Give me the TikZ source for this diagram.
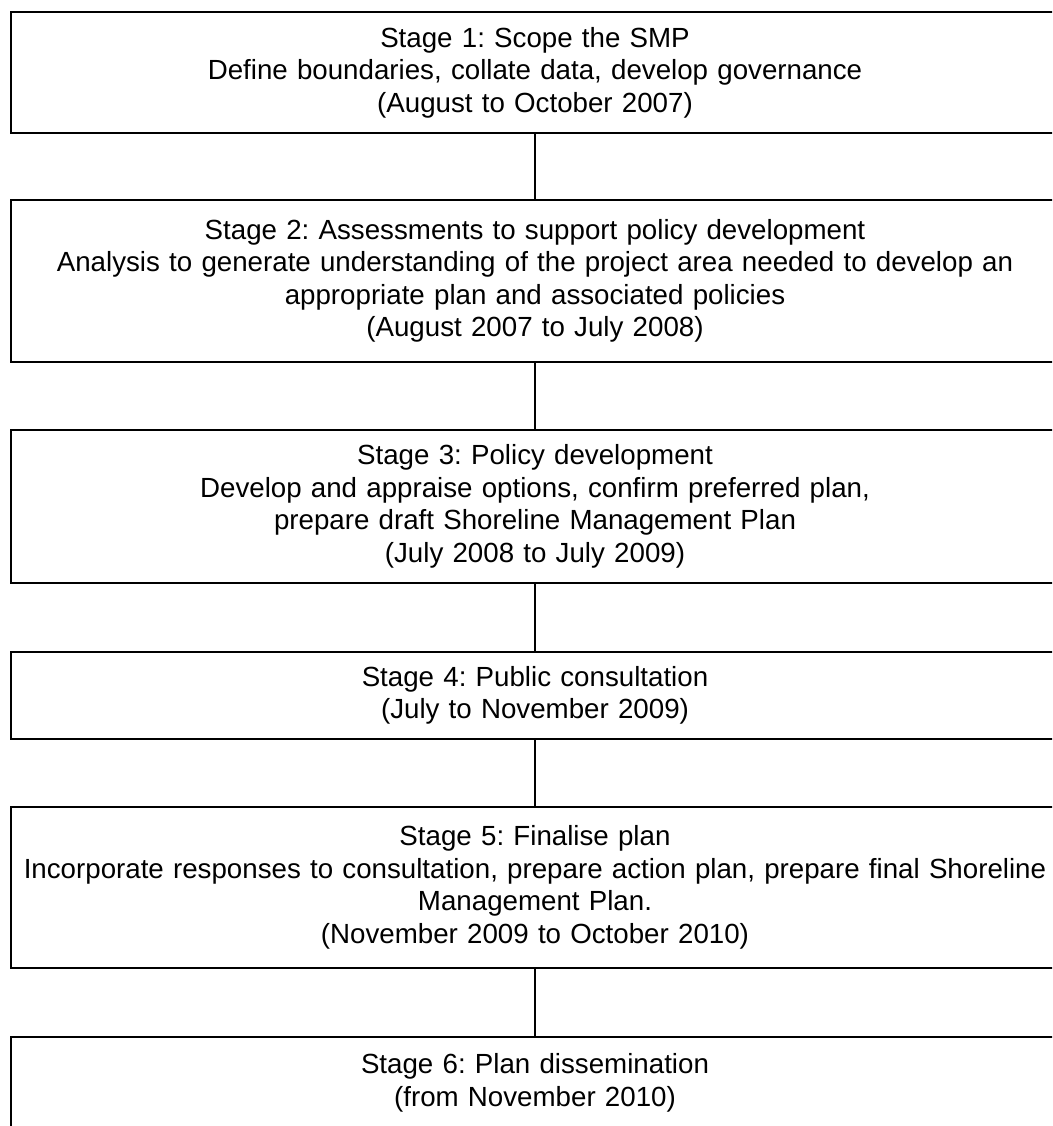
\documentclass[tikz,border=0pt]{standalone}
\usepackage{fontspec}
\setmainfont{Liberation Sans}
\frenchspacing
\begin{document}
\begin{tikzpicture}[x=1pt,y=-1pt,
  stagebox/.style={draw=black,line width=1.4pt,minimum width=1048pt,inner sep=0pt,
    align=center,text width=1040pt,font=\frenchspacing\fontsize{27.7}{32.5}\selectfont},
  link/.style={draw=black,line width=1.4pt}]
\useasboundingbox (0,0) rectangle (1052,1126);
\clip (0,0) rectangle (1052,1126);
\fill[white] (0,0) rectangle (1052,1126);
\node[stagebox,minimum height=121pt] (s1) at (535,72.5)
  {Stage 1: Scope the SMP\\Define boundaries, collate data, develop governance\\(August to October 2007)};
\node[stagebox,minimum height=162pt] (s2) at (535,281)
  {Stage 2: Assessments to support policy development\\Analysis to generate understanding of the project area needed to develop an\\appropriate plan and associated policies\\(August 2007 to July 2008)};
\node[stagebox,minimum height=153pt] (s3) at (535,506.5)
  {Stage 3: Policy development\\Develop and appraise options, confirm preferred plan,\\prepare draft Shoreline Management Plan\\(July 2008 to July 2009)};
\node[stagebox,minimum height=87pt] (s4) at (535,695.5)
  {Stage 4: Public consultation\\(July to November 2009)};
\node[stagebox,minimum height=161pt] (s5) at (535,887.5)
  {Stage 5: Finalise plan\\Incorporate responses to consultation, prepare action plan, prepare final Shoreline\\Management Plan.\\(November 2009 to October 2010)};
\node[stagebox,minimum height=92pt] (s6) at (535,1083)
  {Stage 6: Plan dissemination\\(from November 2010)};
\draw[link] (s1.south) -- (s2.north);
\draw[link] (s2.south) -- (s3.north);
\draw[link] (s3.south) -- (s4.north);
\draw[link] (s4.south) -- (s5.north);
\draw[link] (s5.south) -- (s6.north);
\end{tikzpicture}
\end{document}
